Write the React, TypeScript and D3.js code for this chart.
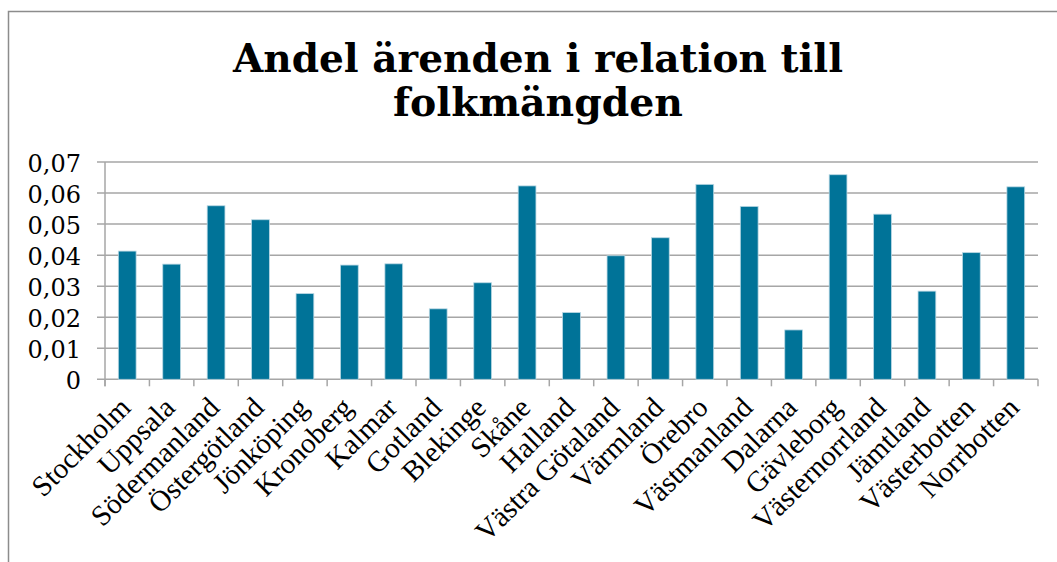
import React from "react";
import * as d3 from "d3";

const categories = [
  "Stockholm", "Uppsala", "Södermanland", "Östergötland", "Jönköping", "Kronoberg",
  "Kalmar", "Gotland", "Blekinge", "Skåne", "Halland", "Västra Götaland", "Värmland",
  "Örebro", "Västmanland", "Dalarna", "Gävleborg", "Västernorrland", "Jämtland",
  "Västerbotten", "Norrbotten",
];
const values = [
  0.0413, 0.0371, 0.0559, 0.0514, 0.0276, 0.0368,
  0.0372, 0.0227, 0.0311, 0.0623, 0.0215, 0.0398, 0.0456,
  0.0628, 0.0557, 0.0159, 0.0659, 0.0532, 0.0284,
  0.0408, 0.0620,
];
const yTicks = [0, 0.01, 0.02, 0.03, 0.04, 0.05, 0.06, 0.07];
const titleLines = ["Andel ärenden i relation till", "folkmängden"];

const W = 1057, H = 562;
const plot = { left: 105, right: 1038, top: 162, bottom: 379.3 };

export default function App() {
  const x = d3.scaleBand<string>().domain(categories).range([plot.left, plot.right]).paddingInner(0.6).paddingOuter(0.3);
  const xStep = d3.scaleBand<string>().domain(categories).range([plot.left, plot.right]);
  const y = d3.scaleLinear().domain([0, 0.07]).range([plot.bottom, plot.top]);
  const fmt = (v: number) => (v === 0 ? "0" : d3.format(".2f")(v).replace(".", ","));
  const grid = "#a6a6a6";
  const serifTitle = "'DejaVu Serif', serif";
  const labelFont = "'Liberation Serif', 'Times New Roman', serif";

  const tickXs = categories.map((c) => xStep(c) as number).concat([plot.right]);

  return (
    <svg width={W} height={H} style={{ position: "absolute", left: 0, top: 0, background: "#fff" }}>
      {/* frame */}
      <path d={`M8.5,${H + 2} V11.5 H${W + 2}`} fill="none" stroke="#8c8c8c" strokeWidth={1.5} />
      {/* title */}
      <text x={538} y={72} textAnchor="middle" fontFamily={serifTitle} fontWeight="bold" fontSize={40} textLength={610} lengthAdjust="spacingAndGlyphs" fill="#000">
        {titleLines[0]}
      </text>
      <text x={538} y={116} textAnchor="middle" fontFamily={serifTitle} fontWeight="bold" fontSize={40} textLength={290} lengthAdjust="spacingAndGlyphs" fill="#000">
        {titleLines[1]}
      </text>
      {/* gridlines */}
      {yTicks.map((t) => (
        <g key={t}>
          <line x1={plot.left - 8} x2={plot.right} y1={y(t)} y2={y(t)} stroke={grid} strokeWidth={1.5} />
          <text x={81} y={y(t) + 3} textAnchor="end" dominantBaseline="middle" fontFamily={serifTitle} fontSize={24} fill="#000">
            {fmt(t)}
          </text>
        </g>
      ))}
      {/* y axis */}
      <line x1={plot.left} x2={plot.left} y1={plot.top} y2={plot.bottom + 7} stroke={grid} strokeWidth={1.5} />
      {/* x ticks */}
      {tickXs.map((tx, i) => (
        <line key={i} x1={tx} x2={tx} y1={plot.bottom} y2={plot.bottom + 7} stroke={grid} strokeWidth={1.5} />
      ))}
      {/* bars */}
      {categories.map((c, i) => (
        <rect key={c} x={x(c)} y={y(values[i])} width={x.bandwidth()} height={plot.bottom - y(values[i])} fill="#007398" stroke="#b9d7e3" strokeWidth={0.8} />
      ))}
      {/* x labels */}
      {categories.map((c) => {
        const cx = (xStep(c) as number) + xStep.bandwidth() / 2 + 5;
        const cy = plot.bottom + 30;
        return (
          <text key={c} x={cx} y={cy} transform={`rotate(-45 ${cx} ${cy})`} textAnchor="end" fontFamily={labelFont} fontSize={29} fill="#000">
            {c}
          </text>
        );
      })}
    </svg>
  );
}
